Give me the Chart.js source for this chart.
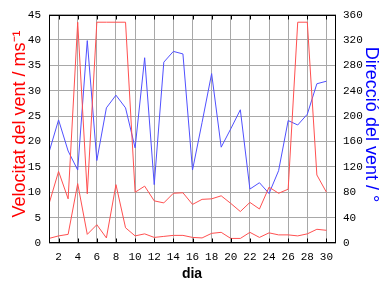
<!DOCTYPE html>
<html>
<head>
<meta charset="utf-8">
<script src="https://cdn.jsdelivr.net/npm/chart.js@4.4.1/dist/chart.umd.min.js"></script>
<style>
  html, body { margin: 0; padding: 0; background: #fff; }
  #wrap { width: 384px; height: 288px; }
</style>
</head>
<body>
<div id="wrap"><canvas id="vent" width="384" height="288"></canvas></div>
<script>
// dades del mes
const dies = [1, 2, 3, 4, 5, 6, 7, 8, 9, 10, 11, 12, 13, 14, 15, 16, 17, 18, 19, 20, 21, 22, 23, 24, 25, 26, 27, 28, 29, 30];
const ventMaxim = [7.7, 14.1, 8.7, 43.5, 9.7, 43.5, 43.5, 43.5, 43.5, 10.0, 11.2, 8.3, 7.9, 9.8, 9.9, 7.6, 8.6, 8.7, 9.3, 7.8, 6.2, 8.0, 6.7, 11.0, 9.8, 10.6, 43.5, 43.5, 13.4, 10.0];
const ventMitja = [0.9, 1.4, 1.7, 11.7, 1.7, 3.6, 1.0, 11.5, 3.0, 1.4, 1.8, 1.1, 1.3, 1.5, 1.5, 1.1, 1.0, 1.9, 2.1, 0.9, 0.9, 2.1, 1.1, 2.0, 1.6, 1.6, 1.4, 1.8, 2.7, 2.5];
const direccio = [143, 194, 145, 115, 319, 130, 213, 233, 213, 150, 292, 92, 285, 302, 298, 115, 190, 267, 151, 180, 210, 85, 95, 78, 114, 193, 186, 203, 251, 255];
const etiquetesDia = [2, 4, 6, 8, 10, 12, 14, 16, 18, 20, 22, 24, 26, 28, 30];

const titolEsq = 'Velocitat del vent / ms\u207B\u00B9';
const titolDreta = 'Direcció del vent / °';
const titolX = 'dia';

const vermell = '#ff5050';
const blau = '#5050ff';
const graella = '#a8a8a8';
const fontTicks = { family: 'Liberation Mono', size: 11 };

const punts = (vals) => dies.map((d, i) => ({ x: d, y: vals[i] }));

// vora, marques interiors i titols dels eixos
const decoracio = {
  id: 'decoracio',
  afterDraw(chart) {
    const ctx = chart.ctx;
    const a = chart.chartArea;
    const l = Math.round(a.left) + 0.5, r = Math.round(a.right) - 0.5;
    const t = Math.round(a.top) + 0.5, b = Math.round(a.bottom) - 0.5;
    ctx.save();
    ctx.strokeStyle = '#000';
    ctx.lineWidth = 1;
    ctx.strokeRect(l, t, r - l, b - t);
    // marques curtes cap a dins a dalt i a baix
    const xs = chart.scales.x;
    ctx.beginPath();
    xs.ticks.forEach(tk => {
      const px = Math.round(xs.getPixelForValue(tk.value)) + 0.5;
      ctx.moveTo(px, t); ctx.lineTo(px, t + 4);
      ctx.moveTo(px, b); ctx.lineTo(px, b - 4);
    });
    ctx.stroke();

    ctx.font = '18px "Liberation Sans"';
    ctx.textAlign = 'center';
    ctx.textBaseline = 'alphabetic';
    ctx.fillStyle = '#ff0000';
    ctx.save();
    ctx.translate(25, 124);
    ctx.rotate(-Math.PI / 2);
    ctx.fillText(titolEsq, 0, 0);
    ctx.restore();

    ctx.fillStyle = '#0000ff';
    ctx.save();
    ctx.translate(366, 124.5);
    ctx.rotate(Math.PI / 2);
    ctx.fillText(titolDreta, 0, 0);
    ctx.restore();

    ctx.fillStyle = '#000';
    ctx.font = 'bold 14px "Liberation Sans"';
    ctx.fillText(titolX, 192, 277.5);
    ctx.restore();
  }
};

new Chart(document.getElementById('vent'), {
  type: 'line',
  data: {
    datasets: [
      { data: punts(ventMaxim), yAxisID: 'y', borderColor: vermell, borderWidth: 1, pointRadius: 0, tension: 0 },
      { data: punts(ventMitja), yAxisID: 'y', borderColor: vermell, borderWidth: 1, pointRadius: 0, tension: 0 },
      { data: punts(direccio), yAxisID: 'y2', borderColor: blau, borderWidth: 1, pointRadius: 0, tension: 0 }
    ]
  },
  options: {
    responsive: false,
    animation: false,
    devicePixelRatio: 1,
    layout: { padding: { top: 13, left: 0, right: 0, bottom: 0 } },
    plugins: { legend: { display: false }, tooltip: { enabled: false } },
    scales: {
      x: {
        type: 'linear',
        min: 1,
        max: 31,
        afterBuildTicks: (s) => { s.ticks = etiquetesDia.map(v => ({ value: v })); },
        afterFit: (s) => { s.height = 45; },
        ticks: { color: '#000', font: fontTicks, padding: 7, maxRotation: 0, autoSkip: false },
        grid: { color: graella, drawTicks: false },
        border: { display: false }
      },
      y: {
        position: 'left',
        min: 0,
        max: 45,
        afterFit: (s) => { s.width = 49; },
        ticks: { stepSize: 5, color: '#000', font: fontTicks, padding: 8 },
        grid: { color: graella, drawTicks: false },
        border: { display: false }
      },
      y2: {
        position: 'right',
        min: 0,
        max: 360,
        afterFit: (s) => { s.width = 48; },
        ticks: { stepSize: 20, color: '#000', font: fontTicks, padding: 7 },
        grid: { display: false, drawTicks: false },
        border: { display: false }
      }
    }
  },
  plugins: [decoracio]
});
</script>
</body>
</html>
